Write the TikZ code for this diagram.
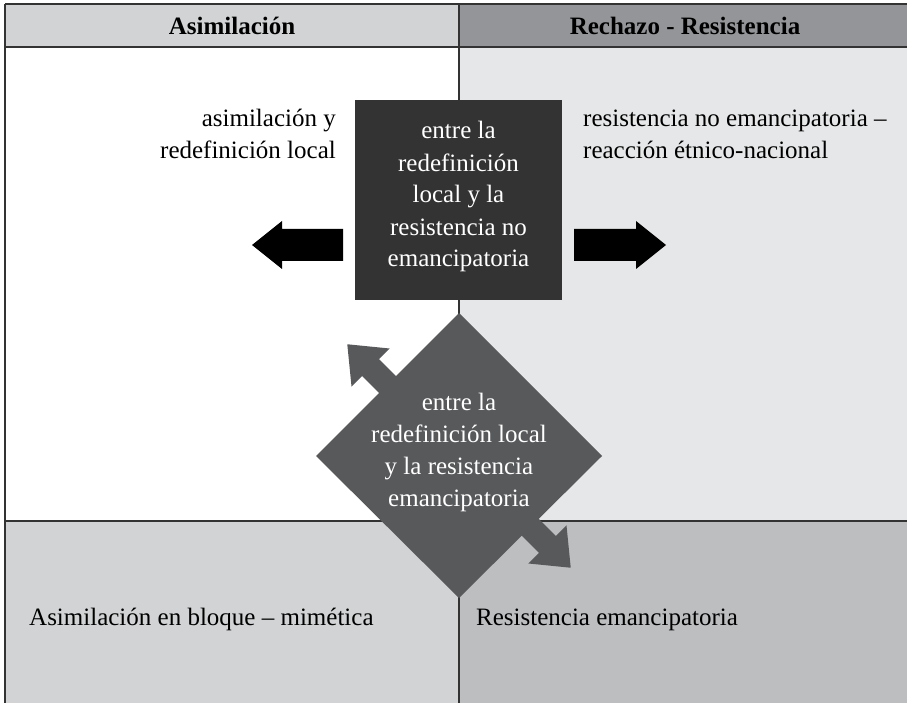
\documentclass[tikz,border=0pt]{standalone}
\usepackage{fontspec}
\setmainfont{Liberation Serif}
\definecolor{hdrL}{HTML}{D1D3D4}
\definecolor{hdrR}{HTML}{939598}
\definecolor{cellTR}{HTML}{E6E7E8}
\definecolor{cellBL}{HTML}{D1D3D4}
\definecolor{cellBR}{HTML}{BCBEC0}
\definecolor{sqcol}{HTML}{333333}
\definecolor{dmcol}{HTML}{58595B}
\definecolor{rulecol}{HTML}{333333}
\begin{document}
\begin{tikzpicture}[x=1pt,y=-1pt,
  rule/.style={draw=rulecol,line width=1.8pt},
  txt/.style={font=\fontsize{25}{32}\selectfont,inner sep=0pt},
  hdr/.style={font=\fontsize{25}{32}\selectfont\bfseries,inner sep=0pt},
  blockarrow/.style={fill=black},
  ]
\useasboundingbox (0,0) rectangle (907,703);
% cell fills
\fill[hdrL] (5,4) rectangle (459,47);
\fill[hdrR] (459,4) rectangle (907,47);
\fill[white] (5,47) rectangle (459,521);
\fill[cellTR] (459,47) rectangle (907,521);
\fill[cellBL] (5,521) rectangle (459,703);
\fill[cellBR] (459,521) rectangle (907,703);
% rules
\draw[rule] (5,4) -- (907,4);
\draw[rule] (5,47) -- (907,47);
\draw[rule] (5,521) -- (907,521);
\draw[rule] (5,4) -- (5,703);
\draw[rule] (459,4) -- (459,703);
% headers
\node[hdr] (hA) at (232,26) {Asimilación};
\node[hdr] (hB) at (685,26) {Rechazo - Resistencia};
% dark square
\node[fill=sqcol,minimum width=207pt,minimum height=200pt,inner sep=0pt] (sq) at (458.5,200) {};
\node[txt,text=white,align=center,anchor=base] (sqt) at (458.5,267)
  {entre la\\redefinición\\local y la\\resistencia no\\emancipatoria};
% side texts
\node[txt,align=right,anchor=base east] (tl) at (336,159)
  {asimilación y\\redefinición local};
\node[txt,align=left,anchor=base west] (tr) at (583,159)
  {resistencia no emancipatoria –\\reacción étnico-nacional};
% block arrows
\fill[blockarrow] (343,229) -- (282,229) -- (282,221) -- (252,245) -- (282,269) -- (282,261) -- (343,261) -- cycle;
\fill[blockarrow] (574,229) -- (636,229) -- (636,221) -- (666,245) -- (636,269) -- (636,261) -- (574,261) -- cycle;
% diamond
\coordinate (dc) at (459,456);
\fill[dmcol] (459,313) -- (602,456) -- (459,598) -- (316,456) -- cycle;
\begin{scope}[shift={(dc)},rotate=-45]
\fill[dmcol] (-158,0) -- (-125,-27) -- (-125,-12) -- (125,-12) -- (125,-27) -- (158,0)
  -- (125,27) -- (125,12) -- (-125,12) -- (-125,27) -- cycle;
\end{scope}
\node[txt,text=white,align=center,anchor=base] (dt) at (459,506)
  {entre la\\redefinición local\\y la resistencia\\emancipatoria};
% bottom texts
\node[txt,anchor=base west] (bl) at (29,625) {Asimilación en bloque – mimética};
\node[txt,anchor=base west] (br) at (476,625) {Resistencia emancipatoria};
\end{tikzpicture}
\end{document}
